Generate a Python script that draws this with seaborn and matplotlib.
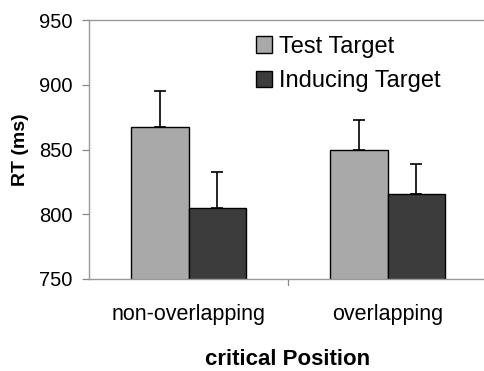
import matplotlib
matplotlib.use("Agg")
import matplotlib.pyplot as plt
import seaborn as sns
import pandas as pd
import numpy as np

categories = ["non-overlapping", "overlapping"]
series = ["Test Target", "Inducing Target"]
test_vals = [867, 850]
induce_vals = [805, 816]
test_err = [28, 23]
induce_err = [28, 23]
colors = ["#a9a9a9", "#3c3c3c"]

df = pd.DataFrame({
    "position": categories * 2,
    "condition": [series[0]] * 2 + [series[1]] * 2,
    "rt": test_vals + induce_vals,
    "err": test_err + induce_err,
})

sns.set_style("white")
plt.rcParams["font.family"] = ["Liberation Sans", "DejaVu Sans"]
plt.rcParams["text.color"] = "black"
plt.rcParams["axes.labelcolor"] = "black"
plt.rcParams["xtick.color"] = "black"
plt.rcParams["ytick.color"] = "black"

fig = plt.figure(figsize=(4.84, 3.71), dpi=100)
ax = fig.add_axes([89 / 484, (371 - 279) / 371, 398 / 484, 259 / 371])

sns.barplot(data=df, x="position", y="rt", hue="condition", order=categories,
            hue_order=series, palette=colors, width=0.58, edgecolor="black",
            linewidth=1.0, errorbar=None, ax=ax, legend=True)

# one-sided error bars
for container, s in zip(ax.containers, series):
    sub = df[df["condition"] == s].set_index("position").loc[categories]
    xs = [p.get_x() + p.get_width() / 2 for p in container.patches]
    ax.errorbar(xs, sub["rt"].values, yerr=[np.zeros(len(xs)), sub["err"].values],
                fmt="none", ecolor="black", elinewidth=1.2, capsize=4, capthick=1.2)

ax.set_ylim(750, 950)
ax.set_xlim(-0.5, 1.5)
ax.set_yticks([750, 800, 850, 900, 950])
ax.tick_params(axis="y", labelsize=14.5, length=5, width=0.9, pad=7, direction="out",
               left=True, color="#888888", labelcolor="black")
ax.tick_params(axis="x", labelsize=15.5, length=0, pad=18, labelcolor="black")
ax.set_xticks([0, 1])
ax.set_xticklabels(categories)
ax.plot([0.5, 0.5], [750, 745.5], color="#888888", lw=0.9, clip_on=False)

for side in ["left", "bottom", "top"]:
    ax.spines[side].set_color("#999999")
    ax.spines[side].set_linewidth(1.0)
ax.spines["right"].set_visible(False)

ax.set_ylabel("RT (ms)", fontsize=14, fontweight="bold", labelpad=7)
ax.set_xlabel("critical Position", fontsize=16, fontweight="bold", labelpad=17)

leg = ax.legend(loc="upper left", bbox_to_anchor=(0.395, 0.975), frameon=False,
                fontsize=17, handlelength=0.7, handleheight=0.7,
                handletextpad=0.3, labelspacing=0.52, borderaxespad=0)

fig.savefig("out.png", dpi=100)
